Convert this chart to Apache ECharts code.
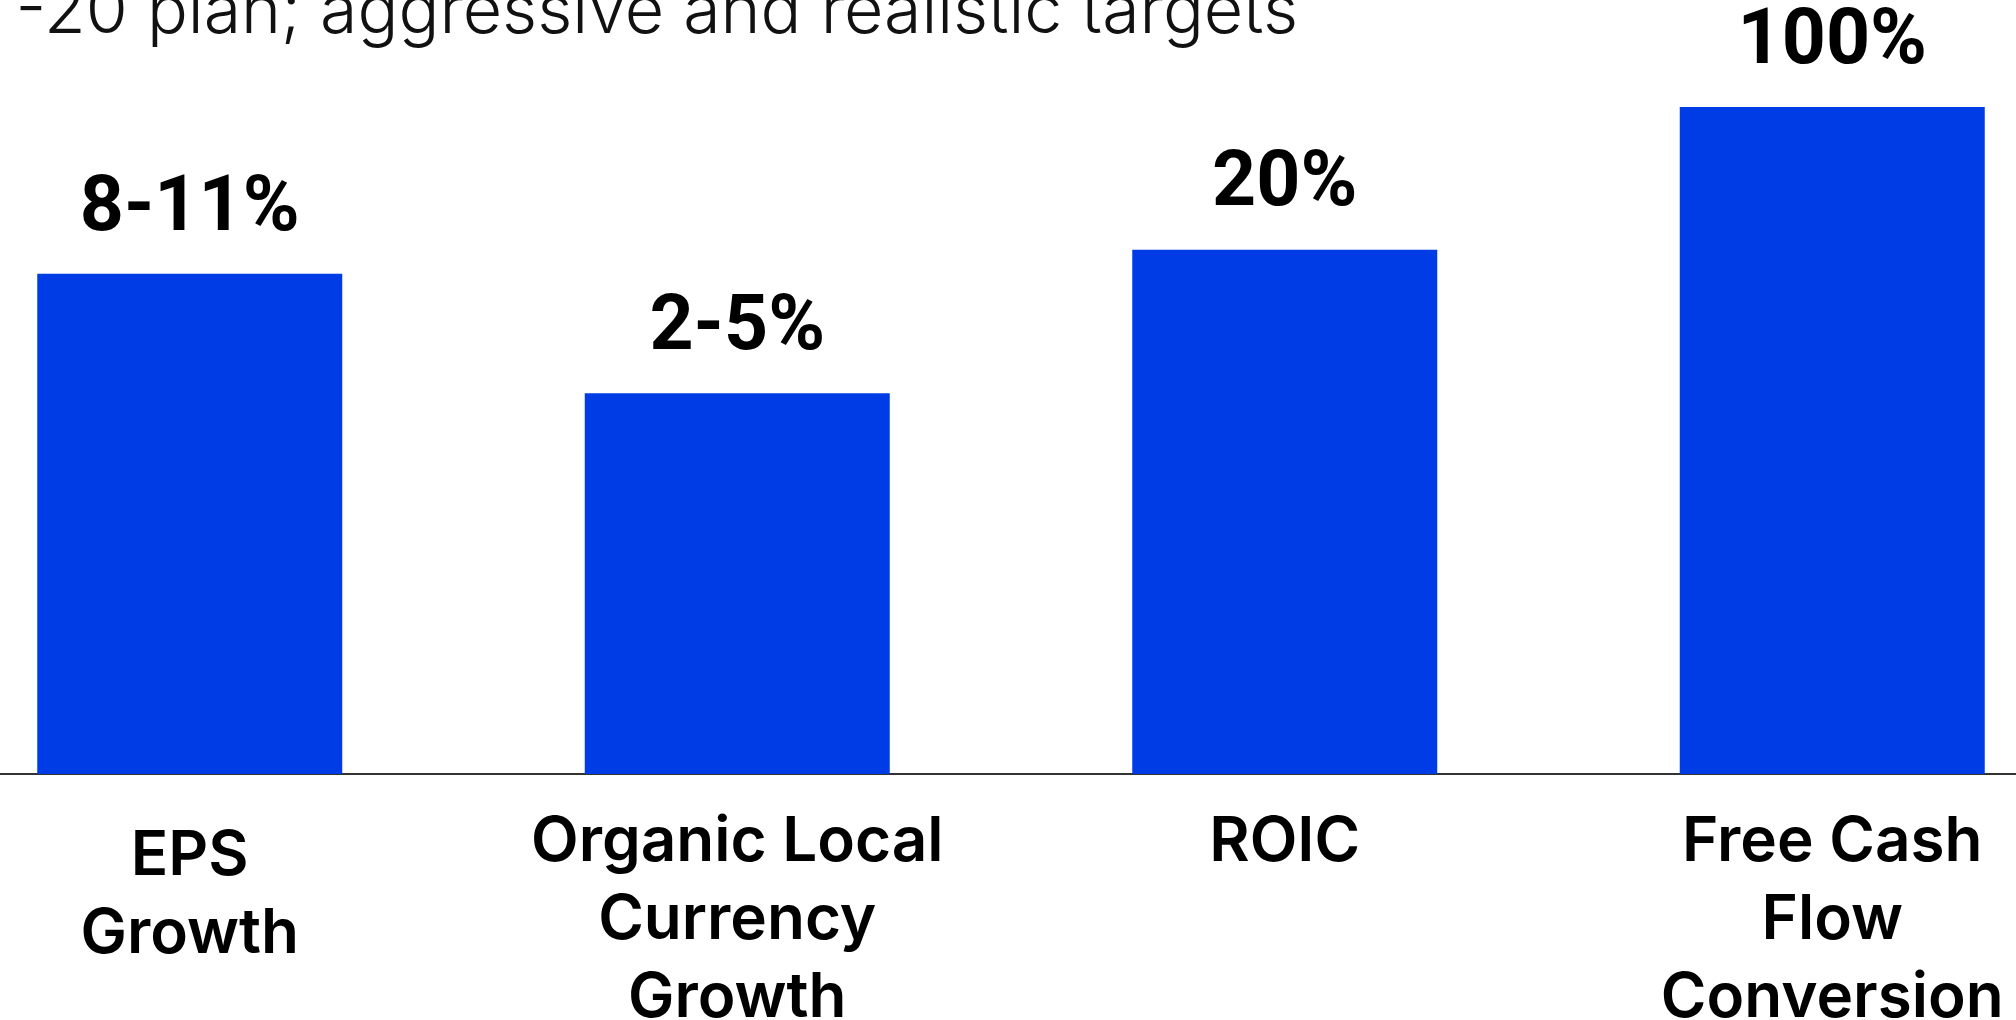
<!DOCTYPE html>
<html>
<head>
<meta charset="utf-8">
<script src="https://cdn.jsdelivr.net/npm/echarts@6/dist/echarts.min.js"></script>
<style>
  html, body { margin: 0; padding: 0; background: #fff; }
  #chart { width: 2016px; height: 1020px; }
</style>
</head>
<body>
<div id="chart"></div>
<script>
// targets for the plan, bar heights (tallest bar = 100)
var categories = ['EPS\nGrowth', 'Organic Local\nCurrency\nGrowth', 'ROIC', 'Free Cash\nFlow\nConversion'];
var barHeights = [75.0, 57.1, 78.6, 100];
var valueLabels = ['8-11%', '2-5%', '20%', '100%'];
var titleText = '-20 plan; aggressive and realistic targets';

var chart = echarts.init(document.getElementById('chart'));

var xData = categories.map(function (c, i) {
    // EPS label sits a bit lower on the slide
    if (i === 0) {
        return { value: c, textStyle: { padding: [14, 0, 0, 0] } };
    }
    return c;
});

var option = {
    backgroundColor: '#ffffff',
    animation: false,
    graphic: [{
        type: 'text',
        right: 2016 - 1298,
        top: -21,
        style: {
            text: titleText,
            font: '300 68px Inter',
            fill: '#111111'
        }
    }],
    grid: {
        left: -84,
        right: -90,
        top: 107,
        bottom: 246,
        outerBoundsMode: 'none',
        containLabel: false
    },
    xAxis: {
        type: 'category',
        data: xData,
        axisLine: { show: true, lineStyle: { color: '#333333', width: 2 } },
        axisTick: { show: false },
        axisLabel: {
            interval: 0,
            margin: 29,
            color: '#000000',
            fontFamily: 'Inter',
            fontWeight: 600,
            fontSize: 62,
            lineHeight: 78,
            align: 'center'
        }
    },
    yAxis: {
        type: 'value',
        min: 0,
        max: 100,
        show: false,
        splitLine: { show: false }
    },
    series: [{
        type: 'bar',
        data: barHeights,
        barWidth: 305,
        itemStyle: { color: '#003ce5' },
        label: {
            show: true,
            position: 'top',
            distance: 25,
            color: '#000000',
            fontFamily: 'Roboto',
            fontWeight: 700,
            fontSize: 77,
            formatter: function (p) {
                return valueLabels[p.dataIndex];
            }
        }
    }]
};

chart.setOption(option);
</script>
</body>
</html>
